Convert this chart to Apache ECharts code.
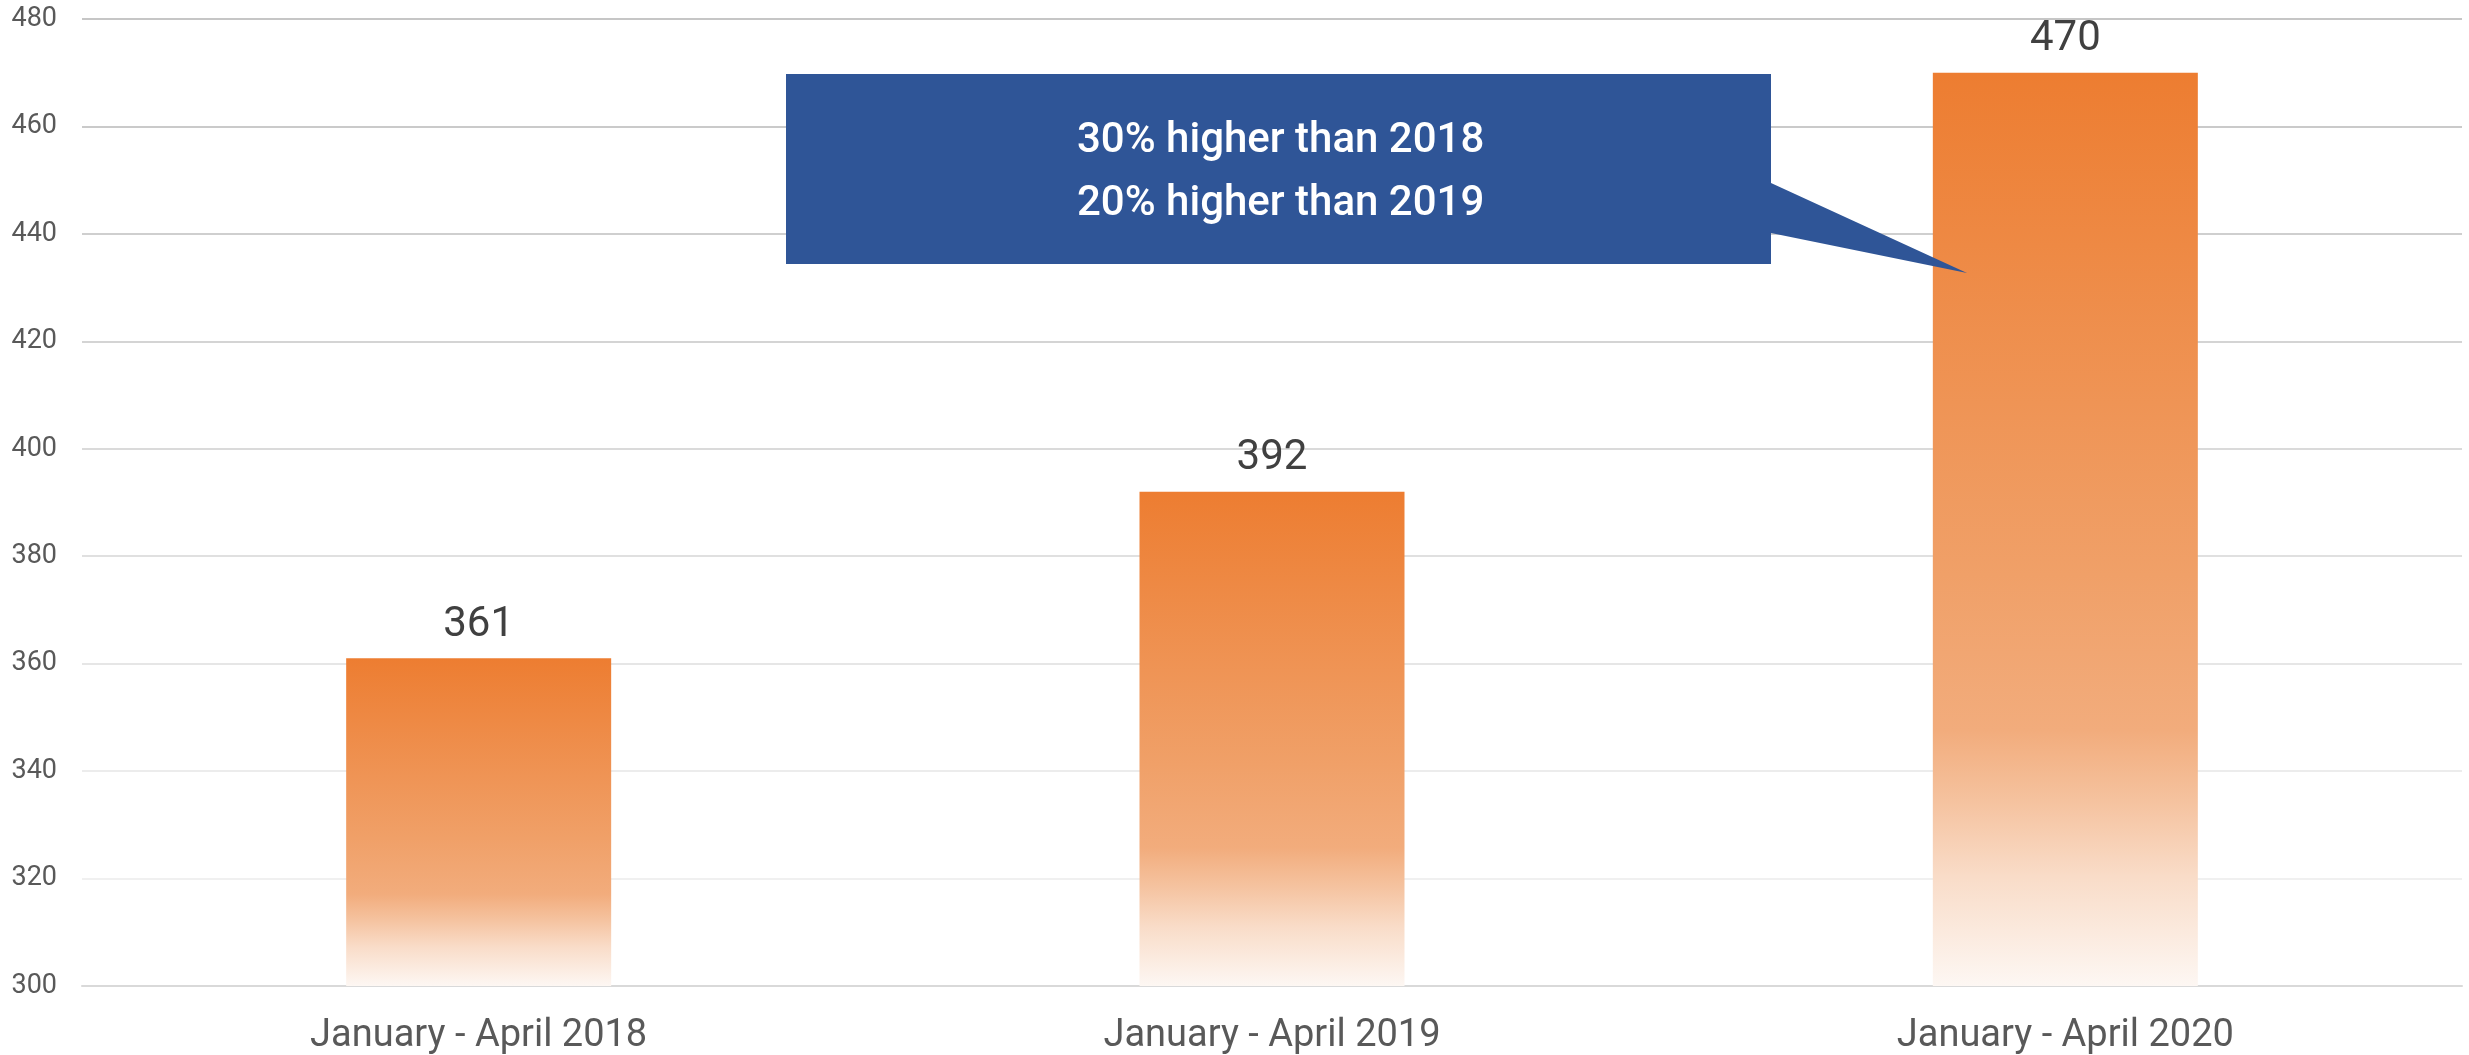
<!DOCTYPE html>
<html>
<head>
<meta charset="utf-8">
<title>January - April comparison</title>
<script src="https://cdn.jsdelivr.net/npm/echarts@6/dist/echarts.min.js"></script>
<style>
    html, body { margin: 0; padding: 0; background: #fff; }
    #chart { width: 2469px; height: 1055px; }
</style>
</head>
<body>
<div id="chart"></div>
<script>
var periods = ['January - April 2018', 'January - April 2019', 'January - April 2020'];
var totals = [361, 392, 470];
var calloutLines = ['30% higher than 2018', '20% higher than 2019'];

// grid lines fade out towards the bottom (index 0 = 300)
var gridColors = ['#d9d9d9', '#f0f0f0', '#ececec', '#e6e6e6', '#e0e0e0',
                  '#dadada', '#d4d4d4', '#cfcfcf', '#cacaca', '#c6c6c6'];

var barFill = new echarts.graphic.LinearGradient(0, 0, 0, 1, [
    { offset: 0, color: '#ED7D31' },
    { offset: 0.55, color: '#F0A068' },
    { offset: 0.72, color: '#F2AC7C' },
    { offset: 0.80, color: '#F5C3A0' },
    { offset: 0.88, color: '#F9DCC8' },
    { offset: 1, color: '#FDF7F3' }
]);

var chart = echarts.init(document.getElementById('chart'));
chart.setOption({
    animation: false,
    textStyle: { fontFamily: 'Roboto' },
    grid: {
        left: 82,
        right: 7,
        top: 19,
        bottom: 67
    },
    xAxis: {
        type: 'category',
        data: periods,
        axisTick: { show: false },
        axisLine: { lineStyle: { color: '#d9d9d9', width: 2 } },
        axisLabel: { color: '#595959', fontSize: 38, margin: 31 }
    },
    yAxis: {
        type: 'value',
        min: 300,
        max: 480,
        interval: 20,
        axisLine: { show: false },
        axisTick: { show: false },
        axisLabel: { color: '#595959', fontSize: 27, margin: 25 },
        splitLine: { lineStyle: { color: gridColors, width: 2 } }
    },
    series: [{
        type: 'bar',
        data: totals,
        barWidth: 265,
        itemStyle: { color: barFill },
        label: {
            show: true,
            position: 'top',
            distance: 12,
            color: '#404040',
            fontSize: 42
        }
    }],
    graphic: [{
        type: 'polygon',
        z: 100,
        shape: {
            points: [[786, 74], [1771, 74], [1771, 183], [1967, 273],
                     [1771, 233], [1771, 264], [786, 264]]
        },
        style: { fill: '#2F5597' }
    }, {
        type: 'text',
        z: 101,
        left: 1077,
        top: 110,
        style: {
            text: calloutLines.join('\n'),
            fill: '#ffffff',
            font: '500 42px Roboto',
            lineHeight: 63
        }
    }]
});
</script>
</body>
</html>
